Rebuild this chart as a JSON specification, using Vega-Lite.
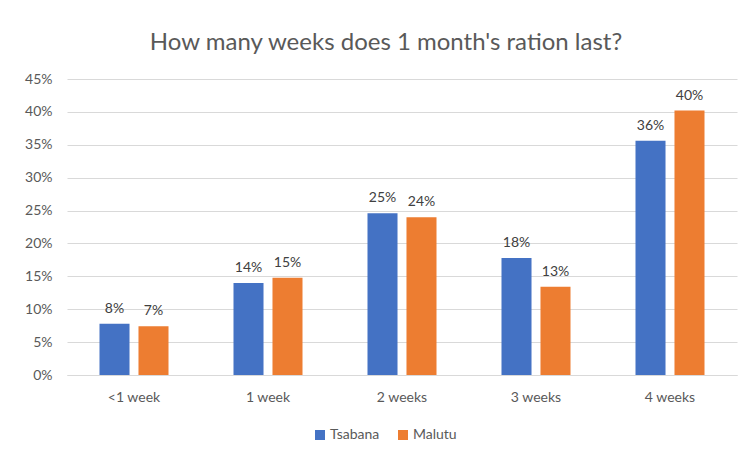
{
  "$schema": "https://vega.github.io/schema/vega-lite/v6.json",
  "width": 670,
  "height": 296,
  "autosize": {"type": "none"},
  "padding": {"left": 67, "top": 79, "right": 10, "bottom": 86},
  "background": "white",
  "title": {
    "text": "How many weeks does 1 month's ration last?",
    "fontSize": 24,
    "font": "Lato",
    "fontWeight": "normal",
    "color": "#595959",
    "anchor": "middle",
    "baseline": "alphabetic",
    "dx": -16,
    "dy": 22,
    "offset": 20
  },
  "data": {
    "values": [
      {"week": "<1 week", "site": "Tsabana", "share": 0.078},
      {"week": "<1 week", "site": "Malutu", "share": 0.074},
      {"week": "1 week", "site": "Tsabana", "share": 0.140},
      {"week": "1 week", "site": "Malutu", "share": 0.148},
      {"week": "2 weeks", "site": "Tsabana", "share": 0.246},
      {"week": "2 weeks", "site": "Malutu", "share": 0.240},
      {"week": "3 weeks", "site": "Tsabana", "share": 0.178},
      {"week": "3 weeks", "site": "Malutu", "share": 0.134},
      {"week": "4 weeks", "site": "Tsabana", "share": 0.356},
      {"week": "4 weeks", "site": "Malutu", "share": 0.402}
    ]
  },
  "encoding": {
    "x": {
      "field": "week",
      "type": "nominal",
      "sort": ["<1 week", "1 week", "2 weeks", "3 weeks", "4 weeks"],
      "scale": {"paddingInner": 0.485, "paddingOuter": 0.2425},
      "axis": {
        "title": null,
        "labelAngle": 0,
        "labelFont": "Lato",
        "labelFontSize": 14,
        "labelColor": "#595959",
        "labelPadding": 15,
        "ticks": false,
        "domain": true,
        "domainColor": "#D9D9D9"
      }
    },
    "xOffset": {
      "field": "site",
      "type": "nominal",
      "sort": ["Tsabana", "Malutu"],
      "scale": {"paddingInner": 0.23, "paddingOuter": 0}
    },
    "y": {
      "field": "share",
      "type": "quantitative",
      "scale": {"domain": [0, 0.45], "nice": false},
      "axis": {
        "title": null,
        "format": ".0%",
        "values": [0, 0.05, 0.1, 0.15, 0.2, 0.25, 0.3, 0.35, 0.4, 0.45],
        "labelFont": "Lato",
        "labelFontSize": 14,
        "labelColor": "#595959",
        "labelPadding": 15,
        "ticks": false,
        "domain": false,
        "grid": true,
        "gridColor": "#D9D9D9",
        "gridWidth": 1
      }
    }
  },
  "layer": [
    {
      "mark": {"type": "bar"},
      "encoding": {
        "color": {
          "field": "site",
          "type": "nominal",
          "sort": ["Tsabana", "Malutu"],
          "scale": {"domain": ["Tsabana", "Malutu"], "range": ["#4472C4", "#ED7D31"]},
          "legend": {
            "title": null,
            "orient": "none",
            "legendX": 246,
            "legendY": 349,
            "direction": "horizontal",
            "symbolType": "square",
            "symbolSize": 100,
            "symbolStrokeWidth": 0,
            "labelFont": "Lato",
            "labelFontSize": 14,
            "labelColor": "#595959",
            "labelOffset": 3,
            "columnPadding": 16
          }
        }
      }
    },
    {
      "mark": {"type": "text", "dy": -11, "baseline": "alphabetic", "font": "Lato", "fontSize": 14, "color": "#404040"},
      "encoding": {
        "text": {"field": "share", "type": "quantitative", "format": ".0%"}
      }
    }
  ],
  "config": {
    "view": {"stroke": null},
    "axis": {"gridColor": "#D9D9D9"}
  }
}
